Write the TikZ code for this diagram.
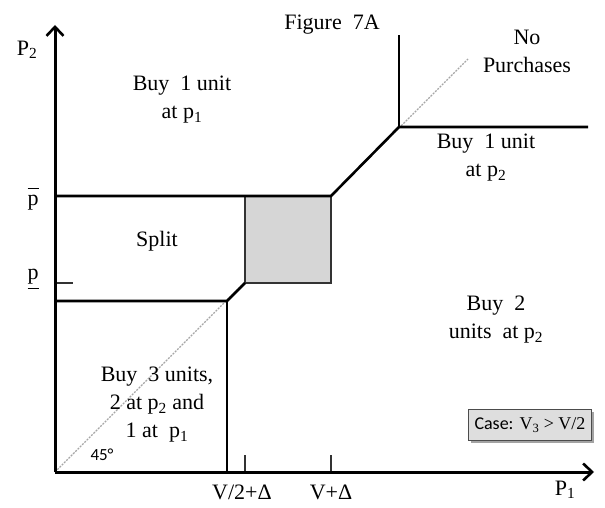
\documentclass[tikz,border=0pt]{standalone}
\usepackage{fontspec}
\setmainfont{Liberation Serif}
\newfontfamily\calib{Carlito}
\usetikzlibrary{arrows.meta,shadows}
\begin{document}
\begin{tikzpicture}[x=1pt,y=-1pt,
  lbl/.style={font=\fontsize{22}{28}\selectfont, align=center, inner sep=0pt},
  axisline/.style={line width=3pt, -{Straight Barb[length=9pt,width=17pt,line width=2.6pt]}},
  region/.style={line width=2.6pt},
  tickline/.style={line width=1.3pt, black!80},
  diag/.style={line width=1.2pt, gray!70, dash pattern=on 2pt off 1.2pt},
  boxedge/.style={line width=1.3pt, black!80},
  casebox/.style={draw=black!70, line width=1pt, fill=black!13, minimum width=123pt, minimum height=31pt, inner sep=0pt,
     drop shadow={shadow xshift=2pt, shadow yshift=-2pt, fill=black!45, opacity=0.8}},
]
\useasboundingbox (0,0) rectangle (605,508);
% key points
\coordinate (O) at (55,472);
\coordinate (Ytop) at (55,25);
\coordinate (Xend) at (594,472);
\coordinate (PbarL) at (55,196);
\coordinate (A) at (331,196);
\coordinate (BL) at (245,196);
\coordinate (B) at (245,283);
\coordinate (Br) at (331,283);
\coordinate (C) at (227,301);
\coordinate (CL) at (55,301);
\coordinate (Cb) at (227,472);
\coordinate (D) at (399,127);
\coordinate (Dtop) at (399,35);
\coordinate (Dr) at (588,127);
\coordinate (Ptick) at (73,283);
\coordinate (PtickL) at (55,283);
\coordinate (T1) at (245,455);
\coordinate (T1b) at (245,472);
\coordinate (T2) at (331,455);
\coordinate (T2b) at (331,472);
\coordinate (DiagEnd) at (468,59);

% 45 degree line
\draw[diag] (O) -- (DiagEnd);
% grey box
\fill[black!16] (B) rectangle (A);
\draw[boxedge] (BL) -- (B) -- (Br) -- (A);

% region boundaries
\draw[region] (PbarL) -- (A) -- (D) -- (Dr);
\draw[region] (D) -- (Dtop);
\draw[region] (CL) -- (C) -- (B);
\draw[region] (C) -- (Cb);

% ticks
\draw[tickline] (PtickL) -- (Ptick);
\draw[tickline] (T1b) -- (T1);
\draw[tickline] (T2b) -- (T2);

% axes
\draw[axisline] (O) -- (Ytop);
\draw[axisline] (O) -- (Xend);

% labels
\node[lbl] (p2) at (27,50) {P\textsubscript{2}};
\node[lbl] (p1) at (565,490) {P\textsubscript{1}};
\node[lbl] (fig) at (332,25) {Figure\ \ 7A};
\node[lbl] (nop) at (527,51) {No\\Purchases};
\node[lbl] (b1p1) at (182,100) {Buy\ \ 1 unit\\at p\textsubscript{1}};
\node[lbl] (b1p2) at (486,158) {Buy\ \ 1 unit\\at p\textsubscript{2}};
\node[lbl] (split) at (157,241) {Split};
\node[lbl] (b2) at (496,320) {Buy\ \ 2\\units\ \ at p\textsubscript{2}};
\node[lbl] (b3) at (157,405) {Buy\ \ 3 units,\\2 at p\textsubscript{2} and\\1 at\ \ p\textsubscript{1}};
\node[lbl] (pbar) at (33,199) {\makebox[0pt][l]{\raisebox{16pt}{\rule{11pt}{1pt}}}p};
\node[lbl] (pund) at (33,279) {\makebox[0pt][l]{\raisebox{-10pt}{\rule{11pt}{1pt}}}p};
\node[lbl] (v2d) at (242,492) {V/2+Δ};
\node[lbl] (vd) at (331,492) {V+Δ};
\node[inner sep=0pt, font=\calib\fontsize{17}{20}\selectfont] (deg) at (102,455) {45°};
\node[casebox, font=\fontsize{18}{20}\selectfont] (case) at (530,425) {{\calib Case:} V\textsubscript{3} > V/2};
\end{tikzpicture}
\end{document}
